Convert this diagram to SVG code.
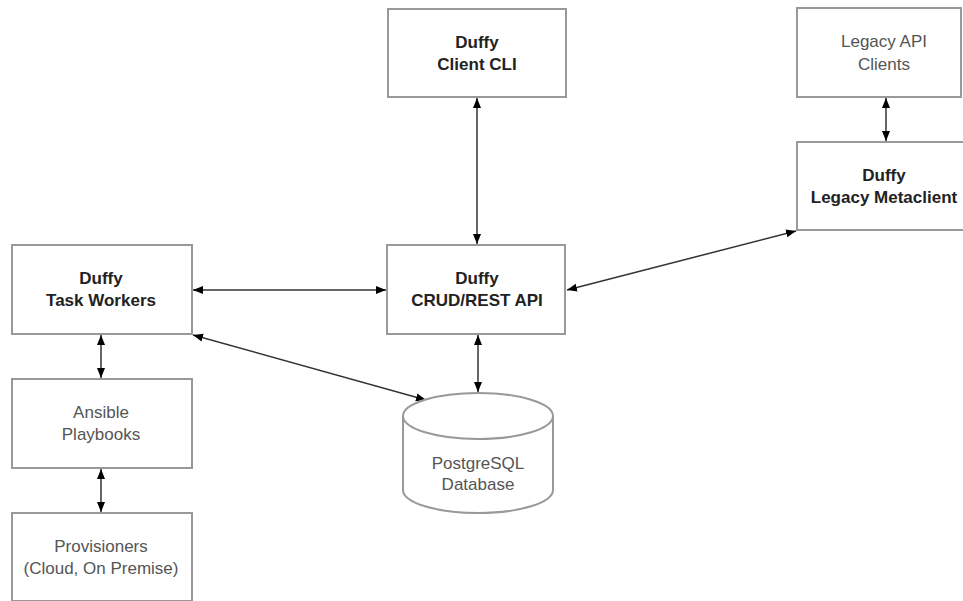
<svg xmlns="http://www.w3.org/2000/svg" width="963" height="601" viewBox="0 0 963 601">
<style>
.box{fill:#fff;stroke:#999;stroke-width:2}
.t{font-family:"Liberation Sans",Arial,sans-serif;font-size:17px;text-anchor:middle}
.b{font-weight:bold;fill:#222}
.r{fill:#555}
.c{fill:none;stroke:#333;stroke-width:1.5;marker-start:url(#ah);marker-end:url(#ah)}
</style>
<defs>
<marker id="ah" viewBox="0 0 10 10" refX="10" refY="5" markerWidth="10" markerHeight="10" markerUnits="userSpaceOnUse" orient="auto-start-reverse">
<path d="M0,1 L10,5 L0,9 Z" fill="#000"/>
</marker>
</defs>
<rect width="963" height="601" fill="#fff"/>
<g id="connectors">
<line class="c" x1="477" y1="98" x2="477" y2="244"/>
<line class="c" x1="886" y1="98" x2="886" y2="141"/>
<line class="c" x1="567" y1="290" x2="796" y2="231"/>
<line class="c" x1="193" y1="290" x2="386" y2="290"/>
<line class="c" x1="101" y1="335" x2="101" y2="378"/>
<line class="c" x1="101" y1="469" x2="101" y2="512"/>
<line class="c" x1="193" y1="335" x2="426" y2="400"/>
<line class="c" x1="478" y1="335" x2="478" y2="392"/>
</g>
<g id="client-cli">
<rect class="box" x="388" y="9" width="178" height="88"/>
<text class="t b" x="477" y="48">Duffy</text>
<text class="t b" x="477" y="70">Client CLI</text>
</g>
<g id="legacy-api-clients">
<rect class="box" x="797" y="8" width="164" height="89"/>
<text class="t r" x="884" y="47">Legacy API</text>
<text class="t r" x="884" y="70">Clients</text>
</g>
<g id="legacy-metaclient">
<rect class="box" x="797" y="142" width="178" height="88"/>
<text class="t b" x="884" y="181">Duffy</text>
<text class="t b" x="884" y="203">Legacy Metaclient</text>
</g>
<g id="task-workers">
<rect class="box" x="12" y="245" width="180" height="89"/>
<text class="t b" x="101" y="284">Duffy</text>
<text class="t b" x="101" y="306">Task Workers</text>
</g>
<g id="crud-api">
<rect class="box" x="387" y="245" width="178" height="89"/>
<text class="t b" x="477" y="284">Duffy</text>
<text class="t b" x="477" y="306">CRUD/REST API</text>
</g>
<g id="ansible">
<rect class="box" x="12" y="379" width="180" height="89"/>
<text class="t r" x="101" y="418">Ansible</text>
<text class="t r" x="101" y="440">Playbooks</text>
</g>
<g id="provisioners">
<rect class="box" x="12" y="513" width="180" height="88"/>
<text class="t r" x="101" y="552">Provisioners</text>
<text class="t r" x="101" y="574">(Cloud, On Premise)</text>
</g>
<g id="database">
<path class="box" d="M403,416 A75,23 0 0 1 553,416 V490 A75,23 0 0 1 403,490 Z"/>
<path class="box" d="M403,416 A75,23 0 0 0 553,416"/>
<text class="t r" x="478" y="469">PostgreSQL</text>
<text class="t r" x="478" y="490">Database</text>
</g>
</svg>
